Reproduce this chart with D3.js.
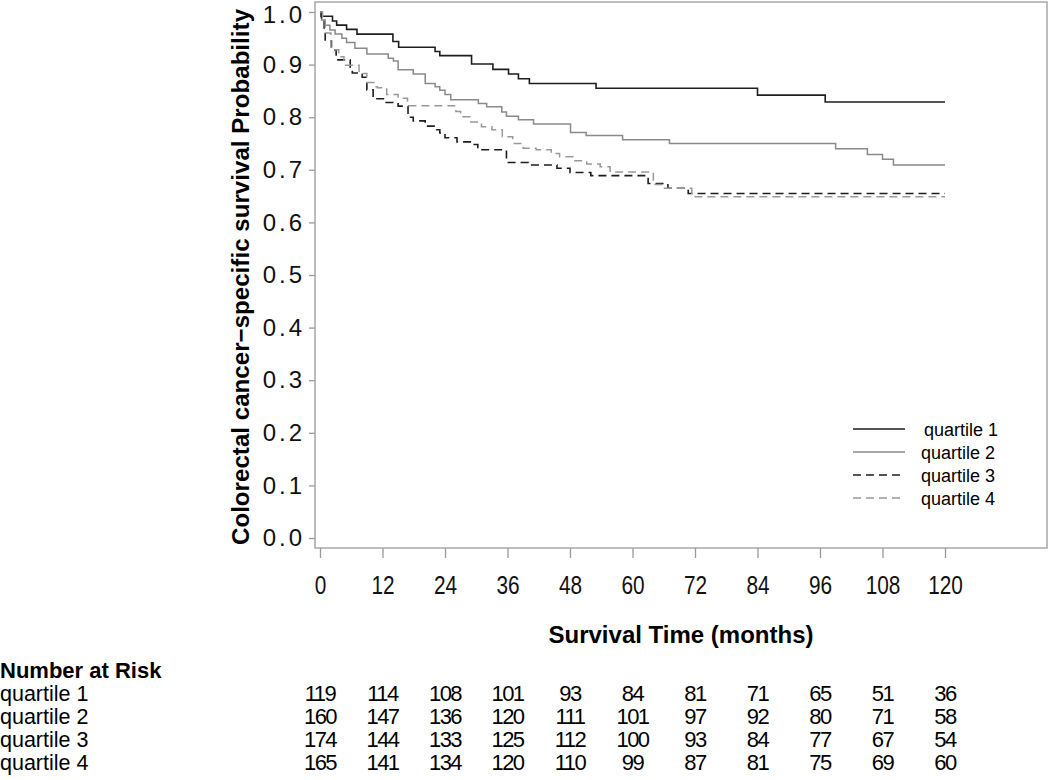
<!DOCTYPE html>
<html lang="en">
<head>
  <meta charset="UTF-8">
  <title>Colorectal cancer survival by quartile</title>
  <style>
    body { margin: 0; background: #fff; }
    svg { display: block; font-family: "Liberation Sans", Arial, sans-serif; }
  </style>
</head>
<body>
  <svg width=1050 height=780 id="viz"></svg>

  <script src="https://cdn.jsdelivr.net/npm/d3@7"></script>
  <script>
/* global d3 */

// Kaplan-Meier steps (months, survival)
let q1Time = [0, 0.2, 2.4, 3.2, 5.1, 7.1, 14.0, 15.1, 22.1, 23.0, 29.1, 33.2, 36.2, 38.1, 40.2, 53.0, 84.0, 97.0];
let q1Surv = [1.0, 0.992, 0.983, 0.975, 0.967, 0.958, 0.944, 0.933, 0.925, 0.917, 0.901, 0.891, 0.882, 0.873, 0.864, 0.855, 0.842, 0.829];

let q2Time = [0, 0.3, 1.0, 1.9, 2.9, 4.2, 5.1, 6.7, 9.0, 13.1, 14.1, 15.0, 17.9, 20.2, 22.1, 23.0, 24.0, 25.1, 30.4, 32.0, 34.9, 35.8, 38.1, 41.0, 48.1, 51.1, 58.1, 67.1, 99.0, 105.1, 108.0, 110.1];
let q2Surv = [1.0, 0.985, 0.975, 0.966, 0.958, 0.95, 0.942, 0.931, 0.92, 0.912, 0.907, 0.89, 0.882, 0.864, 0.858, 0.851, 0.843, 0.833, 0.826, 0.82, 0.81, 0.802, 0.795, 0.787, 0.771, 0.765, 0.757, 0.75, 0.74, 0.729, 0.72, 0.709];

let q3Time = [0, 0.3, 0.8, 1.0, 2.2, 3.1, 5.8, 6.2, 8.1, 9.0, 10.2, 12.7, 15.0, 16.9, 17.9, 20.2, 22.4, 23.0, 24.0, 26.3, 29.2, 30.3, 35.8, 40.0, 45.5, 48.0, 52.0, 63.0, 66.8, 70.7];
let q3Surv = [1.0, 0.985, 0.965, 0.945, 0.928, 0.909, 0.892, 0.884, 0.876, 0.852, 0.835, 0.828, 0.821, 0.800, 0.793, 0.783, 0.776, 0.770, 0.761, 0.753, 0.748, 0.738, 0.714, 0.709, 0.703, 0.695, 0.689, 0.674, 0.665, 0.655];

let q4Time = [0, 0.5, 1.0, 2.1, 3.6, 4.6, 7.5, 9.0, 10.5, 11.0, 12.8, 15.0, 16.8, 26.1, 27.0, 28.8, 31.0, 33.0, 35.0, 37.0, 39.0, 41.5, 44.4, 46.0, 48.6, 51.2, 53.8, 55.7, 64.0, 65.6, 71.4];
let q4Surv = [1.0, 0.99, 0.96, 0.928, 0.915, 0.899, 0.883, 0.866, 0.858, 0.856, 0.843, 0.836, 0.822, 0.811, 0.801, 0.791, 0.782, 0.776, 0.763, 0.75, 0.741, 0.738, 0.731, 0.725, 0.717, 0.711, 0.706, 0.696, 0.672, 0.665, 0.649];

let groupNames = ["quartile 1", "quartile 2", "quartile 3", "quartile 4"];
let xTicks = [0, 12, 24, 36, 48, 60, 72, 84, 96, 108, 120];
let yTicks = [0, 0.1, 0.2, 0.3, 0.4, 0.5, 0.6, 0.7, 0.8, 0.9, 1.0];

// number at risk at each x tick
let riskQ1 = [119, 114, 108, 101, 93, 84, 81, 71, 65, 51, 36];
let riskQ2 = [160, 147, 136, 120, 111, 101, 97, 92, 80, 71, 58];
let riskQ3 = [174, 144, 133, 125, 112, 100, 93, 84, 77, 67, 54];
let riskQ4 = [165, 141, 134, 120, 110, 99, 87, 81, 75, 69, 60];

let styles = [
  {color: "#1e1e1e", width: 1.6, dash: null},
  {color: "#8a8a8a", width: 1.5, dash: null},
  {color: "#1e1e1e", width: 1.6, dash: "8,5"},
  {color: "#999999", width: 1.5, dash: "8,5"}
];

let series = [
  {time: q1Time, surv: q1Surv, risk: riskQ1},
  {time: q2Time, surv: q2Surv, risk: riskQ2},
  {time: q3Time, surv: q3Surv, risk: riskQ3},
  {time: q4Time, surv: q4Surv, risk: riskQ4}
];

let svg = d3.select("#viz"),
  frame = {left: 315, right: 1047, top: 2, bottom: 548};

let x = d3.scaleLinear().domain([0, 120]).range([320, 945]);
let y = d3.scaleLinear().domain([0, 1]).range([538, 12]);

// plot frame
svg.append("rect")
  .attr("x", frame.left).attr("y", frame.top)
  .attr("width", frame.right - frame.left)
  .attr("height", frame.bottom - frame.top)
  .attr("fill", "none")
  .attr("stroke", "#a8a8a8")
  .attr("stroke-width", 1.5);

// axes
let yAxis = svg.append("g")
  .attr("transform", "translate(" + frame.left + ",0)")
  .call(d3.axisLeft(y).tickValues(yTicks).tickSize(6).tickPadding(4).tickFormat(d3.format(".1f")));

let xAxis = svg.append("g")
  .attr("transform", "translate(0," + frame.bottom + ")")
  .call(d3.axisBottom(x).tickValues(xTicks).tickSize(10).tickPadding(18).tickFormat(d3.format("d")));

[xAxis, yAxis].forEach(a => {
  a.select(".domain").remove();
  a.selectAll(".tick line").attr("stroke", "#9a9a9a").attr("stroke-width", 1.3);
  a.selectAll(".tick text")
    .attr("fill", "#111")
    .style("font-family", "'Liberation Sans', Arial, sans-serif")
    .style("font-size", "26px");
});
yAxis.selectAll(".tick text").style("font-size", "24px").style("letter-spacing", "3px");
// keep the top label inside the page
yAxis.selectAll(".tick text").filter(d => d === 1).attr("dy", "0.45em");
// the original digits are tall and narrow
xAxis.selectAll(".tick text").attr("transform", "scale(0.8,1)");

// axis titles
svg.append("text")
  .attr("transform", "translate(249,277) rotate(-90)")
  .attr("text-anchor", "middle")
  .attr("textLength", 536)
  .style("font-size", "24px")
  .style("font-weight", "bold")
  .text("Colorectal cancer\u2212specific survival Probability");

svg.append("text")
  .attr("x", (frame.left + frame.right) / 2)
  .attr("y", 643)
  .attr("text-anchor", "middle")
  .style("font-size", "24px")
  .style("font-weight", "bold")
  .text("Survival Time (months)");

// survival curves
let line = d3.line()
  .curve(d3.curveStepAfter)
  .x(d => x(d[0]))
  .y(d => y(d[1]));

series.forEach((s, i) => {
  let pts = s.time.map((t, k) => [t, s.surv[k]]);
  pts.push([120, s.surv[s.surv.length - 1]]);
  svg.append("path")
    .datum(pts)
    .attr("d", line)
    .attr("fill", "none")
    .attr("stroke", styles[i].color)
    .attr("stroke-width", styles[i].width)
    .attr("stroke-dasharray", styles[i].dash);
});

// legend
let legend = svg.append("g").attr("class", "legend");
groupNames.forEach((name, i) => {
  let ly = 429 + i * 23;
  legend.append("line")
    .attr("x1", 853).attr("x2", 905)
    .attr("y1", ly).attr("y2", ly)
    .attr("stroke", styles[i].color)
    .attr("stroke-width", styles[i].width)
    .attr("stroke-dasharray", styles[i].dash);
  legend.append("text")
    .attr("x", i === 0 ? 924 : 921)
    .attr("y", ly + 7)
    .style("font-size", "18px")
    .text(name);
});

// number at risk table
svg.append("text")
  .attr("x", 0).attr("y", 678)
  .style("font-size", "22px")
  .style("font-weight", "bold")
  .text("Number at Risk");

series.forEach((s, i) => {
  let ry = 701 + i * 23;
  svg.append("text")
    .attr("x", 0).attr("y", ry)
    .style("font-size", "21.5px")
    .text(groupNames[i]);
  svg.selectAll(".risk" + i)
    .data(s.risk)
    .enter()
    .append("text")
    .attr("class", "risk" + i)
    .attr("x", (d, k) => x(xTicks[k]))
    .attr("y", ry)
    .attr("text-anchor", "middle")
    .style("font-size", "22px")
    .style("letter-spacing", "-1.5px")
    .text(d => d);
});
  </script>
</body>
</html>
